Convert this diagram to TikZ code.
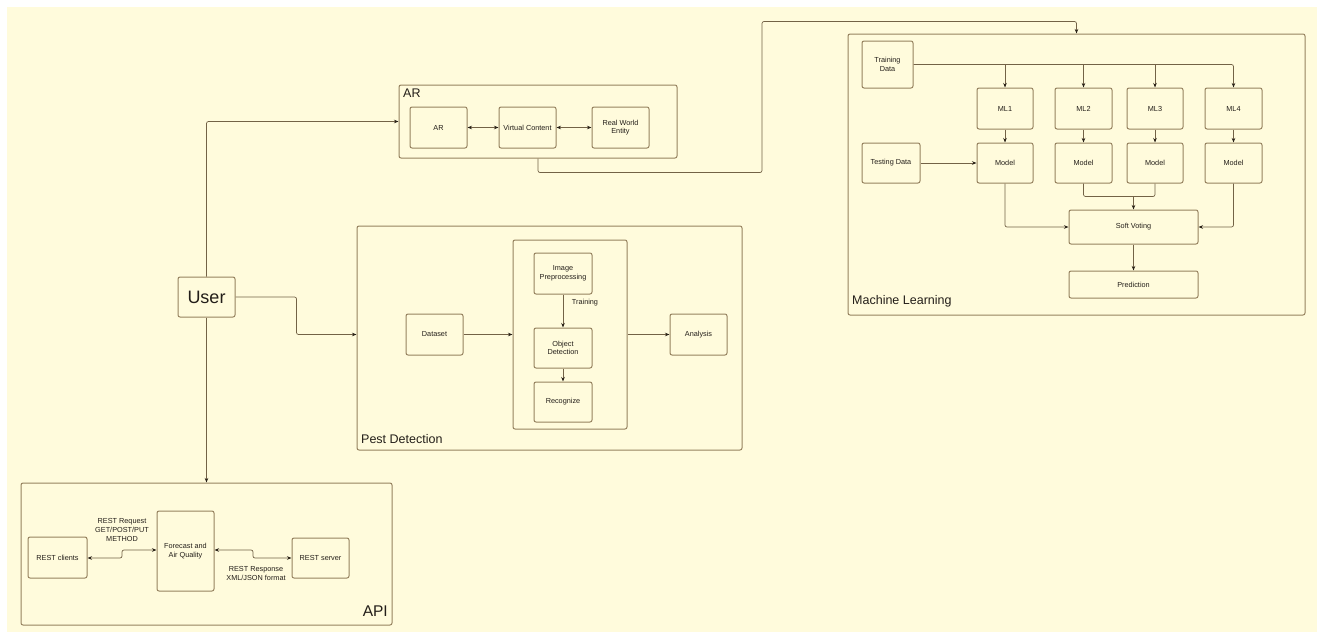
\documentclass[tikz,border=0pt]{standalone}
\usepackage{fontspec}
\setmainfont{Liberation Sans}
\usetikzlibrary{arrows.meta}
\definecolor{bgc}{RGB}{255,251,220}
\definecolor{boxc}{RGB}{150,130,95}
\definecolor{connc}{RGB}{115,98,70}
\definecolor{tipc}{RGB}{40,32,22}
\definecolor{txtc}{RGB}{35,30,25}
\tikzset{
  box/.style={draw=boxc, line width=1pt, rounded corners=2pt, align=center,
    text=txtc, font=\fontsize{7.3}{8.6}\selectfont, inner sep=1pt},
  cont/.style={draw=boxc, line width=1pt, rounded corners=2pt},
  conn/.style={draw=connc, line width=0.7pt, rounded corners=2pt},
  arr/.style={conn, -{Stealth[length=4.5pt,width=3.5pt,color=tipc]}},
  darr/.style={conn, {Stealth[length=4.5pt,width=3.5pt,color=tipc]}-{Stealth[length=4.5pt,width=3.5pt,color=tipc]}},
  lbl/.style={text=txtc, font=\fontsize{7.3}{8.6}\selectfont, align=center, inner sep=0pt},
  big/.style={text=txtc, inner sep=0pt}
}
\begin{document}
\begin{tikzpicture}[x=1pt,y=-1pt]
\useasboundingbox (0,0) rectangle (1317,632);
\fill[bgc] (7,7) rectangle (1317,632);

% User
\node[box, font=\fontsize{18}{20}\selectfont, minimum width=57pt, minimum height=40pt] (User) at (206.5,297) {User};

% AR container
\node[cont, minimum width=278pt, minimum height=73pt] (ARc) at (538,121.5) {};
\node[big, anchor=north west, font=\fontsize{12.5}{14}\selectfont] (ARl) at (403,89) {AR};
\node[box, minimum width=57pt, minimum height=41pt] (ARb) at (438.5,127.5) {AR};
\node[box, minimum width=57pt, minimum height=41pt] (VC) at (527.5,127.5) {Virtual Content};
\node[box, minimum width=57pt, minimum height=41pt] (RWE) at (620.5,127.5) {Real World\\Entity};
\draw[darr] (ARb.east) -- (VC.west);
\draw[darr] (VC.east) -- (RWE.west);

% Machine Learning container
\node[cont, minimum width=457pt, minimum height=281pt] (MLc) at (1076.5,174.5) {};
\node[big, anchor=south west, font=\fontsize{12.5}{14}\selectfont] (MLl) at (852,307) {Machine Learning};
\node[box, minimum width=51pt, minimum height=47pt] (TD) at (887.5,64.5) {Training\\Data};
\node[box, minimum width=56pt, minimum height=41pt] (ML1) at (1005,108.5) {ML1};
\node[box, minimum width=57pt, minimum height=41pt] (ML2) at (1083.5,108.5) {ML2};
\node[box, minimum width=56pt, minimum height=41pt] (ML3) at (1155,108.5) {ML3};
\node[box, minimum width=57pt, minimum height=41pt] (ML4) at (1233.5,108.5) {ML4};
\node[box, minimum width=56pt, minimum height=40pt] (M1) at (1005,163) {Model};
\node[box, minimum width=57pt, minimum height=40pt] (M2) at (1083.5,163) {Model};
\node[box, minimum width=56pt, minimum height=40pt] (M3) at (1155,163) {Model};
\node[box, minimum width=57pt, minimum height=40pt] (M4) at (1233.5,163) {Model};
\node[box, minimum width=58pt, minimum height=40pt] (TestD) at (891,163) {Testing Data};
\node[box, minimum width=129pt, minimum height=34pt] (SV) at (1133.5,227) {Soft Voting};
\node[box, minimum width=129pt, minimum height=27pt] (Pred) at (1133.5,284.5) {Prediction};

\draw[arr] (TD.east) -| (ML4.north);
\draw[arr] (ML1.north |- TD.east) -- (ML1.north);
\draw[arr] (ML2.north |- TD.east) -- (ML2.north);
\draw[arr] (ML3.north |- TD.east) -- (ML3.north);
\draw[arr] (ML1.south) -- (M1.north);
\draw[arr] (ML2.south) -- (M2.north);
\draw[arr] (ML3.south) -- (M3.north);
\draw[arr] (ML4.south) -- (M4.north);
\draw[arr] (TestD.east) -- (M1.west);
\draw[arr] (M1.south) |- (SV.west);
\draw[arr] (M4.south) |- (SV.east);
\draw[conn] (M2.south) -- ++(0,13) -| (M3.south);
\coordinate (join) at (SV.north |- 0,196);
\draw[arr] (join) -- (SV.north);
\draw[arr] (SV.south) -- (Pred.north);

% AR -> ML
\draw[arr] (ARc.south) -- ++(0,14) -| ++(224,-151) -| (MLc.north);

% Pest Detection container
\node[cont, minimum width=385pt, minimum height=224pt] (PDc) at (549.5,338) {};
\node[big, anchor=south west, font=\fontsize{12.5}{14}\selectfont] (PDl) at (361,443.5) {Pest Detection};
\node[cont, minimum width=114pt, minimum height=189pt] (Inner) at (570,334.5) {};
\node[box, minimum width=58pt, minimum height=41pt] (IP) at (563,273.5) {Image\\Preprocessing};
\node[box, minimum width=58pt, minimum height=40pt] (OD) at (563,348) {Object\\Detection};
\node[box, minimum width=58pt, minimum height=40pt] (Rec) at (563,402) {Recognize};
\node[box, minimum width=57pt, minimum height=41pt] (DS) at (434.5,334.5) {Dataset};
\node[box, minimum width=57pt, minimum height=41pt] (An) at (698.5,334.5) {Analysis};
\draw[arr] (IP.south) -- (OD.north);
\node[lbl] (trl) at (585,303) {Training};
\draw[arr] (OD.south) -- (Rec.north);
\draw[arr] (DS.east) -- (Inner.west |- DS.east);
\draw[arr] (Inner.east |- An.west) -- (An.west);

% API container
\node[cont, minimum width=371pt, minimum height=142pt] (APIc) at (206.5,554) {};
\node[big, anchor=south east, font=\fontsize{15.5}{17}\selectfont] (APIl) at (388,616.5) {API};
\node[box, minimum width=59pt, minimum height=41pt] (RC) at (57.5,557.5) {REST clients};
\node[box, minimum width=57pt, minimum height=80pt] (FAQ) at (185.5,551) {Forecast and\\Air Quality};
\node[box, minimum width=57pt, minimum height=40pt] (RS) at (320.5,558) {REST server};
\draw[darr] (RC.east |- 0,558) -- (122,558) -- (122,550) -- (FAQ.west |- 0,550);
\draw[darr] (FAQ.east |- 0,550) -- (253,550) -- (253,558) -- (RS.west |- 0,558);
\node[lbl] (reql) at (122,530) {REST Request\\GET/POST/PUT\\METHOD};
\node[lbl] (resl) at (256,573.5) {REST Response\\XML/JSON format};

% User connectors
\draw[arr] (User.north) |- (ARc.west);
\draw[arr] (User.east) -- ++(61,0) |- (PDc.west |- DS.east);
\draw[arr] (User.south) -- (User.south |- APIc.north);
\end{tikzpicture}
\end{document}
